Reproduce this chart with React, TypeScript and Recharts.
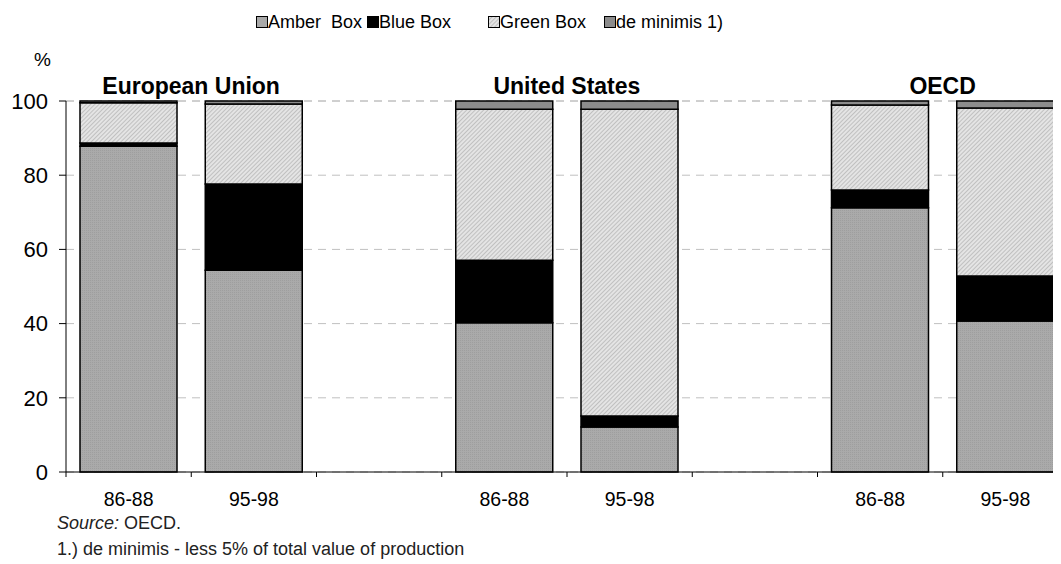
import React from 'react';
import { BarChart, Bar, XAxis, YAxis, CartesianGrid, LabelList } from 'recharts';

const categories = ['86-88', '95-98', '', '86-88', '95-98', '', '86-88', '95-98'];
const groupTitles = ['European Union', '', '', 'United States', '', '', 'OECD', ''];
const amberBox = [87.8, 54.4, null, 40.2, 12.1, null, 71.2, 40.7];
const blueBox = [0.9, 23.2, null, 16.9, 3.0, null, 4.8, 12.1];
const greenBox = [10.8, 21.6, null, 40.7, 82.7, null, 22.9, 45.3];
const deMinimis = [0.5, 0.8, null, 2.2, 2.2, null, 1.1, 1.9];
const yTicks = [0, 20, 40, 60, 80, 100];

const seriesNames = ['Amber  Box', 'Blue Box', 'Green Box', 'de minimis 1)'];

const FONT = '"Liberation Sans", Arial, Helvetica, sans-serif';
const CHART_W = 1062;
const CHART_H = 520;
const MARGIN = { top: 93, right: 2, bottom: 0, left: 0 };
const Y_W = 58;
const X_H = 56;
const PLOT_W = CHART_W - MARGIN.left - MARGIN.right - Y_W;
const HALF_BAND = PLOT_W / categories.length / 2;

const AMBER = 'url(#amberFill)';
const BLUE = '#000000';
const GREEN = 'url(#greenHatch)';
const DEMIN = '#8c8c8c';
const fills = [AMBER, BLUE, GREEN, DEMIN];
const legendFills = ['#a9a9a9', '#000000', 'url(#legendHatch)', '#8c8c8c'];

const data = categories.map((c, i) => ({
  id: i,
  label: c,
  title: groupTitles[i],
  amber: amberBox[i],
  blue: blueBox[i],
  green: greenBox[i],
  deMinimis: deMinimis[i],
}));

const XTick = (props: any) => {
  const { x, y, payload } = props;
  const idx = Number(payload.value);
  return (
    <g>
      <line x1={x - HALF_BAND} x2={x - HALF_BAND} y1={y} y2={y + 5} stroke="#000" strokeWidth={1} />
      <text x={x} y={y + 34} textAnchor="middle" fontSize={19.5} fontFamily={FONT} fill="#000">
        {categories[idx]}
      </text>
    </g>
  );
};

const TitleLabel = (props: any) => {
  const { x, width, value } = props;
  if (!value) return null;
  return (
    <text
      x={Number(x) + Number(width) / 2 + HALF_BAND}
      y={MARGIN.top - 7}
      textAnchor="middle"
      fontSize={23}
      fontWeight="bold"
      fontFamily={FONT}
      fill="#000"
    >
      {value}
    </text>
  );
};

const legendLeft = [248, 359, 480, 596];

const Swatch = ({ fill }: { fill: string }) => (
  <svg width={12} height={12} style={{ position: 'absolute', left: 0, top: 5 }}>
    <defs>
      <pattern id="legendHatch" width="3" height="3" patternUnits="userSpaceOnUse" patternTransform="rotate(45)">
        <rect width="3" height="3" fill="#e4e4e4" />
        <line x1="0" y1="0" x2="0" y2="3" stroke="#a8a8a8" strokeWidth="1.2" />
      </pattern>
    </defs>
    <rect x={0.5} y={0.5} width={11} height={11} fill={fill} stroke="#000" strokeWidth={1} />
  </svg>
);

export default function App() {
  return (
    <div style={{ position: 'relative', width: 1053, height: 556, overflow: 'hidden', fontFamily: FONT, color: '#000' }}>
      {seriesNames.map((n, i) => (
        <div
          key={n}
          style={{ position: 'absolute', left: legendLeft[i], top: 3, height: 22, lineHeight: '22px', fontSize: 18, whiteSpace: 'pre', paddingLeft: 12 }}
        >
          <Swatch fill={legendFills[i]} />
          {n}
        </div>
      ))}
      <div style={{ position: 'absolute', left: 26, top: 41, fontSize: 19, lineHeight: '22px' }}>%</div>
      <div style={{ position: 'absolute', top: 0, left: 0 }}>
        <BarChart width={CHART_W} height={CHART_H} data={data} margin={MARGIN} barSize={97}>
          <defs>
            <pattern id="greenHatch" width="3" height="3" patternUnits="userSpaceOnUse" patternTransform="rotate(45)">
              <rect width="3" height="3" fill="#e4e4e4" />
              <line x1="0" y1="0" x2="0" y2="3" stroke="#a8a8a8" strokeWidth="1.2" />
            </pattern>
            <pattern id="amberFill" width="2" height="2" patternUnits="userSpaceOnUse">
              <rect width="2" height="2" fill="#aaaaaa" />
              <rect width="1" height="1" fill="#9e9e9e" />
            </pattern>
          </defs>
          <CartesianGrid vertical={false} stroke="#c0c0c0" strokeDasharray="8 6" />
          <XAxis
            dataKey="id"
            type="category"
            interval={0}
            height={X_H}
            tickLine={false}
            tickSize={0}
            tickMargin={0}
            axisLine={{ stroke: '#000', strokeWidth: 1 }}
            tick={<XTick />}
          />
          <YAxis
            width={Y_W}
            domain={[0, 100]}
            ticks={yTicks}
            interval={0}
            tickSize={7}
            tickMargin={11}
            axisLine={{ stroke: '#000', strokeWidth: 1 }}
            tickLine={{ stroke: '#000', strokeWidth: 1 }}
            tick={{ fontSize: 22, fill: '#000', fontFamily: FONT }}
          />
          <Bar dataKey="amber" stackId="s" fill={fills[0]} stroke="#000" strokeWidth={1.5} isAnimationActive={false} />
          <Bar dataKey="blue" stackId="s" fill={fills[1]} stroke="#000" strokeWidth={1.5} isAnimationActive={false} />
          <Bar dataKey="green" stackId="s" fill={fills[2]} stroke="#000" strokeWidth={1.5} isAnimationActive={false} />
          <Bar dataKey="deMinimis" stackId="s" fill={fills[3]} stroke="#000" strokeWidth={1.5} isAnimationActive={false}>
            <LabelList dataKey="title" content={<TitleLabel />} />
          </Bar>
        </BarChart>
      </div>
      <div style={{ position: 'absolute', left: 49, top: 504, fontSize: 18, lineHeight: '22px', color: '#222' }}>
        <i>Source:</i> OECD.
      </div>
      <div style={{ position: 'absolute', left: 49, top: 530, fontSize: 18, lineHeight: '22px', color: '#222' }}>
        1.) de minimis - less 5% of total value of production
      </div>
    </div>
  );
}
